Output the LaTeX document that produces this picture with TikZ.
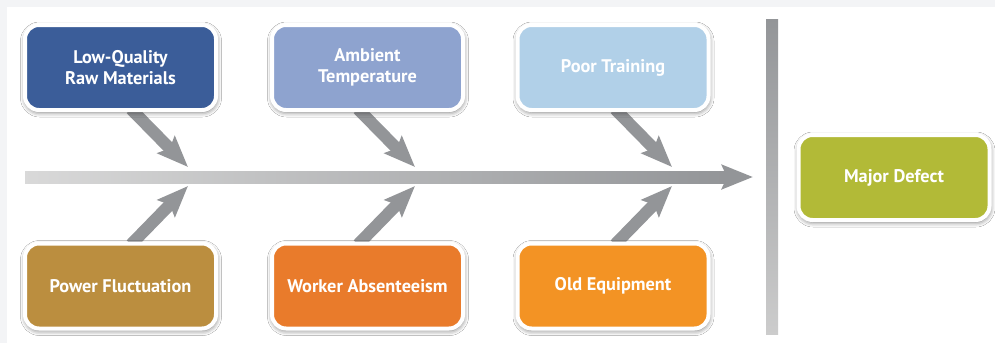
\documentclass[tikz,border=0pt]{standalone}
\usepackage{fontspec}
\setmainfont{PT Sans}
\usepackage{tikz}
\usetikzlibrary{arrows.meta, positioning, calc, backgrounds, shadows.blur}
\usepackage{xcolor}
\definecolor{lqblue}{HTML}{3B5D99}
\definecolor{ambblue}{HTML}{8EA3CF}
\definecolor{trainblue}{HTML}{B1D0E8}
\definecolor{powergold}{HTML}{BB8E3F}
\definecolor{workorange}{HTML}{E97B2B}
\definecolor{equiporange}{HTML}{F39324}
\definecolor{defectgreen}{HTML}{B2BA37}
\definecolor{bonegray}{HTML}{939598}
\definecolor{pagegray}{HTML}{F3F4F6}

\begin{document}
\begin{tikzpicture}[x=1pt, y=-1pt,
  cause/.style={draw=white, line width=4pt, rounded corners=14pt,
    minimum width=191pt, minimum height=85pt, align=center,
    text=white, font=\bfseries\fontsize{18.3}{21}\selectfont,
    blur shadow={shadow xshift=0.5pt, shadow yshift=-2pt,
      shadow blur radius=5pt, shadow opacity=60}},
  bone/.style={bonegray, line width=12pt,
    -{Stealth[length=31pt, width=24pt, inset=5pt]}}]
\useasboundingbox (0,0) rectangle (995,343);
% cause boxes, top row and bottom row
\node[cause, fill=lqblue] (lq) at (120.5,67.5) {Low-Quality\\Raw Materials};
\node[cause, fill=ambblue] (amb) at (367.5,67.5) {Ambient\\Temperature};
\node[cause, fill=trainblue] (train) at (613,67.5) {Poor Training};
\node[cause, fill=powergold] (power) at (120.5,286) {Power Fluctuation};
\node[cause, fill=workorange] (work) at (367.5,286) {Worker Absenteeism};
\node[cause, fill=equiporange] (equip) at (613,286) {Old Equipment};
% effect
\node[cause, fill=defectgreen] (defect) at (894,177.5) {Major Defect};
% spine and bones
\coordinate (tail) at (25,177);
\coordinate (neck) at (724,177);
\coordinate (head) at (753,177);
\foreach \n/\x in {tipA/188,tipB/415,tipC/672} { \coordinate (\n) at (\x,167); }
\foreach \n/\x in {tipD/188,tipE/415,tipF/672} { \coordinate (\n) at (\x,186); }
\begin{scope}[on background layer]
\fill[pagegray] (0,0) rectangle (995,343);
\fill[white] (7,7) rectangle (995,343);
\shade[left color=gray!30, middle color=bonegray, right color=bonegray]
  ($(tail)+(0,-6)$) rectangle ($(neck)+(0,6)$);
\draw[bone] ($(neck)+(-4,0)$) -- (head);
% top bones point down, bottom bones point up
\foreach \b/\t in {lq/tipA,amb/tipB,train/tipC} {
  \draw[bone] ($(\t |- \b.south)+(-57,-3)$) -- (\t);
}
\foreach \b/\t in {power/tipD,work/tipE,equip/tipF} {
  \draw[bone] ($(\t |- \b.north)+(-57,3)$) -- (\t);
}
% divider before the effect
\shade[top color=bonegray, bottom color=gray!40] (766,19) rectangle (778,334);
\end{scope}
\end{tikzpicture}
\end{document}
